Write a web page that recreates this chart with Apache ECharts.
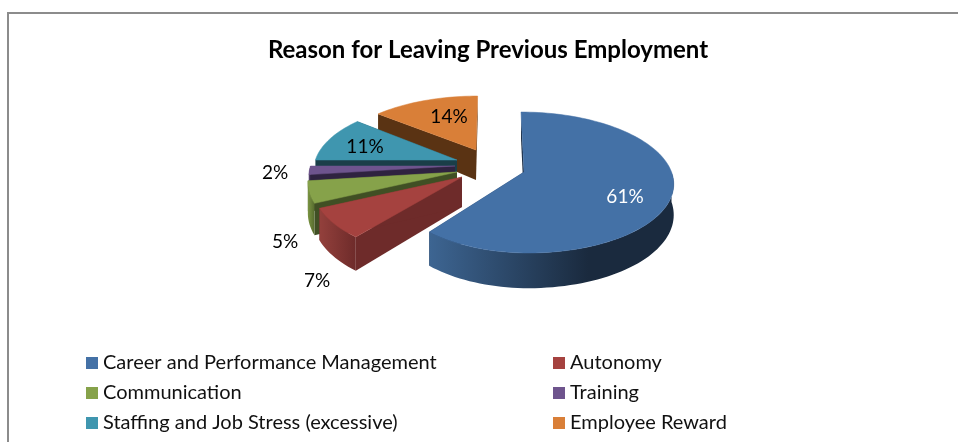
<!DOCTYPE html>
<html>
<head>
<meta charset="utf-8">
<style>html,body{margin:0;padding:0;background:#fff}#chart{width:958px;height:442px}</style>
<script src="https://cdn.jsdelivr.net/npm/echarts@6/dist/echarts.min.js"></script>
</head>
<body>
<div id="chart"></div>
<script>
// Survey shares, in percent, clockwise from twelve o'clock
const categories = ['Career and Performance Management', 'Autonomy', 'Communication', 'Training', 'Staffing and Job Stress (excessive)', 'Employee Reward'];
const shares = [61, 7, 5, 2, 11, 14];

// Surface, radial wall and rim shades per slice
const topColors = ['#4471a6', '#a5423f', '#86a24a', '#6e548d', '#3f96af', '#d97f38'];
const edgeColors = ['#1b2c42', '#6e2b2a', '#404f24', '#2f2340', '#1a3e48', '#5a3313'];
const rimFrom = ['#3d6592', '#93403c', '#7a9442', '#5f4879', '#37829a', '#bf6f30'];
const rimTo = ['#1a2a3e', '#6e2b2a', '#566a2e', '#3a2c4e', '#1f4a57', '#7a4718'];

// Exploded layout: apex of each wedge, its size, lean and left-hand compression
const apexX = [524, 462, 457, 455, 457, 476];
const apexY = [172, 177, 172, 166, 160, 150];
const wedgeScale = [1, 1, 1, 0.98, 0.96, 0.9];
const wedgeShear = [0.05, 0, 0, 0, 0, -0.03];
const wedgeWest = [0.92, 1, 1, 1, 1, 1.06];
const labelX = [625, 317, 285, 275, 365, 449];
const labelY = [197, 281, 242, 173, 147, 117];
const labelFill = ['#fff', '#000', '#000', '#000', '#000', '#000'];
const paintZ = [8, 7, 6, 5, 4, 3];

// Tilted-disc projection
const RX = 147.5, RY = 68.9, FORESHORTEN = 0.149, DEPTH = 30;
const FONT = 'Lato, Carlito, sans-serif';

const total = shares.reduce((a, b) => a + b, 0);
const startShare = shares.map((_, i) => shares.slice(0, i).reduce((a, b) => a + b, 0));

function project(i, deg) {
  const t = deg * Math.PI / 180;
  const w = 1 + FORESHORTEN * Math.cos(t);
  const s = wedgeScale[i];
  let dx = RX * s * Math.sin(t) / w;
  const dy = -RY * s * Math.cos(t) / w;
  if (dx < 0) dx *= wedgeWest[i];
  return { x: apexX[i] + dx + wedgeShear[i] * dy, y: apexY[i] + dy, d: DEPTH * s / w };
}

function renderWedge(i, value) {
  const a0 = startShare[i] / total * 360;
  const a1 = a0 + value / total * 360;
  const steps = Math.max(6, Math.ceil((a1 - a0) / 2));
  const arc = [];
  for (let k = 0; k <= steps; k++) arc.push(project(i, a0 + (a1 - a0) * k / steps));
  const apex = { x: apexX[i], y: apexY[i], d: DEPTH };
  const low = p => [p.x, p.y + p.d];
  const high = p => [p.x, p.y];
  const wall = (a, b) => ({
    type: 'polygon',
    shape: { points: [high(a), high(b), low(b), low(a)] },
    style: { fill: edgeColors[i] }
  });
  // The outer rim only shows on the near half of the disc
  const nearFrom = Math.max(a0, 90), nearTo = Math.min(a1, 270);
  const children = [wall(apex, arc[0]), wall(apex, arc[steps])];
  if (nearTo > nearFrom) {
    const near = [];
    const n = Math.ceil((nearTo - nearFrom) / 2);
    for (let k = 0; k <= n; k++) near.push(project(i, nearFrom + (nearTo - nearFrom) * k / n));
    children.push({
      type: 'polygon',
      shape: { points: near.map(high).concat(near.slice().reverse().map(low)) },
      style: {
        fill: {
          type: 'linear', x: 0, y: 0, x2: 1, y2: 0,
          colorStops: i === 0
            ? [{ offset: 0, color: rimFrom[i] }, { offset: 0.65, color: rimTo[i] }, { offset: 1, color: rimTo[i] }]
            : [{ offset: 0, color: rimFrom[i] }, { offset: 1, color: rimTo[i] }]
        }
      }
    });
  }
  children.push({
    type: 'polygon',
    shape: { points: [high(apex)].concat(arc.map(high)) },
    style: { fill: topColors[i], stroke: topColors[i], lineWidth: 0.5 }
  });
  children.push({
    type: 'text',
    x: labelX[i],
    y: labelY[i],
    style: { text: value + '%', fill: labelFill[i], font: '19px ' + FONT, align: 'center', verticalAlign: 'middle' }
  });
  return { type: 'group', children };
}

const chart = echarts.init(document.getElementById('chart'), null, { renderer: 'canvas' });

const legendCommon = {
  orient: 'vertical',
  top: 352,
  height: 120,
  padding: 0,
  itemWidth: 12,
  itemHeight: 12,
  itemGap: 8,
  icon: 'rect',
  selectedMode: false,
  textStyle: { fontFamily: FONT, fontSize: 20, color: '#111', padding: [0, 0, 0, 0], height: 22, lineHeight: 22 }
};

chart.setOption({
  animation: false,
  backgroundColor: '#fff',
  title: {
    text: 'Reason for Leaving Previous Employment',
    left: 483,
    top: 33,
    textAlign: 'center',
    textStyle: { fontFamily: FONT, fontSize: 24, fontWeight: 'bold', color: '#000' }
  },
  legend: [
    Object.assign({ left: 86, data: [categories[0], categories[2], categories[4]] }, legendCommon),
    Object.assign({ left: 553, data: [categories[1], categories[3], categories[5]] }, legendCommon)
  ],
  graphic: [
    { type: 'rect', shape: { x: 7, y: 12, width: 2, height: 430 }, style: { fill: '#8c8c8c' } },
    { type: 'rect', shape: { x: 7, y: 12, width: 951, height: 2 }, style: { fill: '#8c8c8c' } }
  ],
  series: categories.map((name, i) => ({
    type: 'custom',
    name,
    coordinateSystem: 'none',
    z: paintZ[i],
    itemStyle: { color: topColors[i] },
    silent: true,
    data: [[shares[i]]],
    renderItem: (params, api) => renderWedge(i, api.value(0))
  }))
});
</script>
</body>
</html>
